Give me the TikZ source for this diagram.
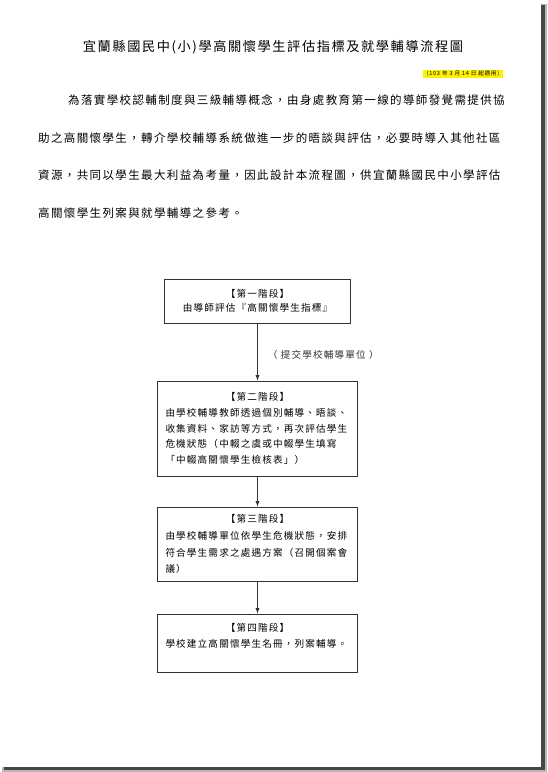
\documentclass[tikz,border=0pt]{standalone}
\usepackage{fontspec}
\setmainfont{Noto Sans CJK TC}
\newfontfamily\cjkspaced[LetterSpace=12]{Noto Sans CJK TC}
\usetikzlibrary{arrows}
\tikzset{
  >=latex,
  {page shadow/.style} ={fill=black!72},
  {page glow/.style} ={fill=black!28},
  {title text/.style} ={font=\cjkspaced\fontsize{13.2}{16}\selectfont},
  {date note/.style} ={fill=yellow, inner sep=0, minimum width=80pt,
                minimum height=8pt, font=\cjkspaced\fontsize{5.6}{6}\selectfont},
  {intro line/.style} ={anchor=west, inner sep=0,
                font=\cjkspaced\fontsize{11.5}{13}\selectfont},
  {stage/.style} ={draw=black!80, line width=0.9pt, align=left,
                inner xsep=8pt, inner ysep=3pt, text width=184pt},
  {flow/.style} ={->, line width=0.9pt, black!80},
  {flow label/.style} ={font=\cjkspaced\fontsize{9.6}{11}\selectfont, inner sep=0},
}
\newcommand{\stagehead}[1]{\makebox[\linewidth]{#1}}

\begin{document}
\begin{tikzpicture}[x=1pt,y=-1pt]
\useasboundingbox (0,0) rectangle (547,772);
% page shadow
\fill[page glow] (539,4) rectangle (547,772);
\fill[page glow] (2,765.5) rectangle (547,772);
\fill[page shadow] (540.5,5) rectangle (544.5,770);
\fill[page shadow] (4,767) rectangle (544.5,770);
\fill[white] (0,0) rectangle (540.5,767);

\node[title text] (title) at (273,47) {宜蘭縣國民中(小)學高關懷學生評估指標及就學輔導流程圖};
\node[date note] (date) at (463,74) {(103 年 3 月 14 日 起適用)};

\node[intro line] (intro1) at (68,100) {為落實學校認輔制度與三級輔導概念，由身處教育第一線的導師發覺需提供協};
\node[intro line] (intro2) at (38,138) {助之高關懷學生，轉介學校輔導系統做進一步的晤談與評估，必要時導入其他社區};
\node[intro line] (intro3) at (38,175.5) {資源，共同以學生最大利益為考量，因此設計本流程圖，供宜蘭縣國民中小學評估};
\node[intro line] (intro4) at (38,213) {高關懷學生列案與就學輔導之參考。};

\node[stage, text width=170pt, minimum height=44pt,
      font=\cjkspaced\fontsize{9.6}{13.5}\selectfont] (S1) at (257.5,301)
  {\stagehead{【第一階段】}\\ \stagehead{由導師評估『高關懷學生指標』}};
\node[stage, minimum height=95pt,
      font=\cjkspaced\fontsize{9.6}{15.8}\selectfont] (S2) at (257.5,428.5)
  {\stagehead{【第二階段】}\\
   由學校輔導教師透過個別輔導、晤談、\\
   收集資料、家訪等方式，再次評估學生\\
   危機狀態（中輟之虞或中輟學生填寫\\
   「中輟高關懷學生檢核表」）};
\node[stage, minimum height=74pt,
      font=\cjkspaced\fontsize{9.6}{16.8}\selectfont] (S3) at (257.5,544)
  {\stagehead{【第三階段】}\\
   由學校輔導單位依學生危機狀態，安排\\
   符合學生需求之處遇方案（召開個案會\\
   議）};
\node[stage, minimum height=58pt,
      font=\cjkspaced\fontsize{9.6}{16}\selectfont] (S4) at (257.5,643)
  {\stagehead{【第四階段】}\\
   學校建立高關懷學生名冊，列案輔導。\\ \mbox{}};

\draw[flow] (S1) -- node[flow label, pos=0.55, right=10pt] (submit)
  {（\ 提交學校輔導單位\ ）} (S2);
\draw[flow] (S2) -- (S3);
\draw[flow] (S3) -- (S4);
\end{tikzpicture}
\end{document}
